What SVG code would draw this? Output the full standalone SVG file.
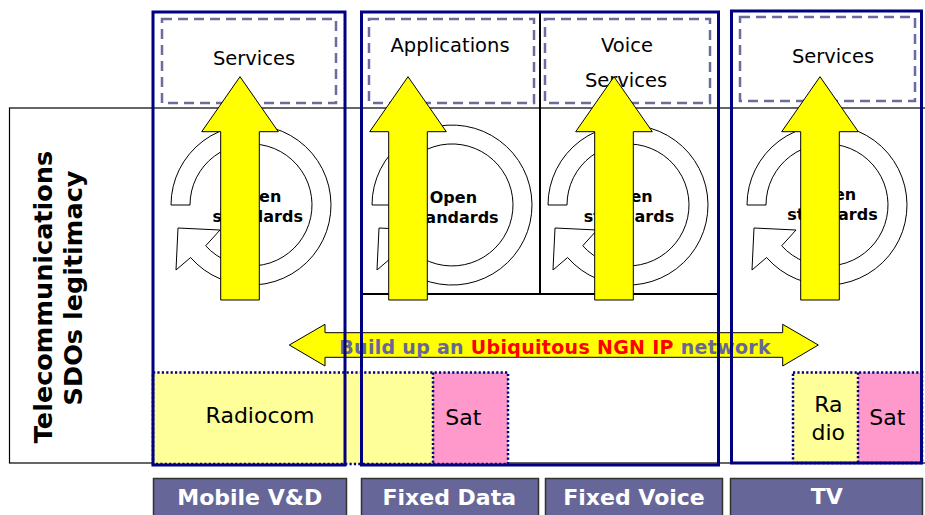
<svg xmlns="http://www.w3.org/2000/svg" xmlns:xlink="http://www.w3.org/1999/xlink" width="925" height="515" viewBox="0 0 925 515">
  <style>
    .lbl { font-family: "DejaVu Sans", Verdana, sans-serif; fill: #000; }
    .svc { font-size: 19.5px; text-anchor: middle; }
    .net { font-size: 22px; text-anchor: middle; }
    .std { font-size: 16px; font-weight: bold; text-anchor: middle; }
    .side { font-size: 25.5px; font-weight: bold; text-anchor: middle; }
    .tab { font-family: "DejaVu Sans", Verdana, sans-serif; font-size: 22px; font-weight: bold; fill: #fff; text-anchor: middle; }
    .tabbox { fill: #666699; stroke: #333; stroke-width: 1.5; }
    .dash { fill: none; stroke: #6b6b9e; stroke-width: 2.5; stroke-dasharray: 10 6; }
    .col { fill: none; stroke: #000080; stroke-width: 3; }
    .dots { fill: none; stroke: #000080; stroke-width: 2.5; stroke-dasharray: 2.2 2.2; }
    .yel { fill: #ffff99; }
    .pink { fill: #ff99cc; }
    .cycle { fill: #fff; stroke: #000; stroke-width: 1; }
    .up { fill: #ffff00; stroke: #000; stroke-width: 1; }
  </style>
  <defs>
    <!-- circular "open standards" arrow, centred on 0,0 -->
    <path id="cyc" d="M -80,0 A 80 80 0 1 1 -60.4,52.5 L -75,65 L -73,23 L -31,25 L -45.3,40.8 A 61 61 0 1 0 -61,0 Z"/>
    <!-- upward block arrow, tip at 0,0 -->
    <path id="uparrow" d="M 0,0 L 38.3,55 L 19.3,55 L 19.3,223.3 L -19.3,223.3 L -19.3,55 L -38.3,55 Z"/>
  </defs>

  <rect width="925" height="515" fill="#fff"/>

  <!-- legitimacy frame -->
  <g id="frame">
    <rect x="9.5" y="108" width="930" height="355" fill="#fff" stroke="#000" stroke-width="1.2"/>
    <g class="lbl side">
      <text transform="translate(51.5,297) rotate(-90)">Telecommunications</text>
      <text transform="translate(81.5,288) rotate(-90)">SDOs legitimacy</text>
    </g>
  </g>

  <!-- access technologies -->
  <g id="access">
    <rect class="yel" x="153" y="372.5" width="280" height="91.5"/>
    <rect class="pink" x="433" y="372.5" width="75" height="91.5"/>
    <rect class="yel" x="793" y="372.5" width="65" height="90.5"/>
    <rect class="pink" x="858" y="372.5" width="64" height="90.5"/>
    <text class="lbl net" x="260" y="423">Radiocom</text>
    <text class="lbl net" x="463.3" y="425">Sat</text>
    <text class="lbl net" x="828.3" y="411.5">Ra</text>
    <text class="lbl net" x="828.3" y="439.5">dio</text>
    <text class="lbl net" x="887.3" y="425">Sat</text>
  </g>

  <!-- fixed network inner grid -->
  <g id="fixed-grid" fill="none" stroke="#000" stroke-width="2">
    <rect x="361.5" y="12" width="357" height="282"/>
    <line x1="540" y1="12" x2="540" y2="294"/>
  </g>

  <!-- service boxes -->
  <g id="services">
    <rect class="dash" x="162" y="19" width="174" height="84"/>
    <text class="lbl svc" x="254" y="65">Services</text>
    <rect class="dash" x="369" y="19" width="165" height="84"/>
    <text class="lbl svc" x="450" y="52">Applications</text>
    <rect class="dash" x="545" y="19" width="165" height="84"/>
    <text class="lbl svc" x="627" y="52">Voice</text>
    <text class="lbl svc" x="626" y="87">Services</text>
    <rect class="dash" x="740" y="17" width="175" height="84"/>
    <text class="lbl svc" x="833" y="63">Services</text>
  </g>

  <!-- open standards cycles -->
  <g id="std-mobile">
    <use xlink:href="#cyc" class="cycle" transform="translate(251,205)"/>
    <text class="lbl std" x="257.7" y="202">Open</text>
    <text class="lbl std" x="257.7" y="222">standards</text>
  </g>
  <g id="std-data">
    <use xlink:href="#cyc" class="cycle" transform="translate(452,205)"/>
    <text class="lbl std" x="453.4" y="203">Open</text>
    <text class="lbl std" x="453.4" y="223">standards</text>
  </g>
  <g id="std-voice">
    <use xlink:href="#cyc" class="cycle" transform="translate(628,205)"/>
    <text class="lbl std" x="629" y="202">Open</text>
    <text class="lbl std" x="629" y="222">standards</text>
  </g>
  <g id="std-tv">
    <use xlink:href="#cyc" class="cycle" transform="translate(827,205)"/>
    <text class="lbl std" x="832.5" y="200">Open</text>
    <text class="lbl std" x="832.5" y="220">standards</text>
  </g>

  <!-- arrows -->
  <g id="connectors">
    <use xlink:href="#uparrow" class="up" transform="translate(240,76.7)"/>
    <use xlink:href="#uparrow" class="up" transform="translate(408,76.7)"/>
    <use xlink:href="#uparrow" class="up" transform="translate(614,76.7)"/>
    <use xlink:href="#uparrow" class="up" transform="translate(820,76.7)"/>
    <path class="up" d="M 289.3,345 L 325,324.3 L 325,332.7 L 782.7,332.7 L 782.7,324.3 L 818.3,345 L 782.7,366 L 782.7,357.3 L 325,357.3 L 325,366 Z"/>
    <text x="339.3" y="353.5" font-family="'DejaVu Sans', Verdana, sans-serif" font-size="19" font-weight="bold" letter-spacing="0.3" fill="#666699">Build up an <tspan fill="#ff0000">Ubiquitous NGN IP</tspan> network</text>
  </g>

  <!-- columns -->
  <g id="col-mobile"><rect class="col" x="153" y="12" width="192" height="453"/></g>
  <g id="col-fixed"><rect class="col" x="361.5" y="12" width="357" height="453"/></g>
  <g id="col-tv"><rect class="col" x="731.5" y="11" width="190" height="452"/></g>

  <!-- dotted outlines of access blocks -->
  <g id="access-outline">
    <rect class="dots" x="153" y="372.5" width="355" height="91.5"/>
    <line class="dots" x1="433" y1="372.5" x2="433" y2="464"/>
    <rect class="dots" x="793" y="372.5" width="129" height="90.5"/>
    <line class="dots" x1="858" y1="372.5" x2="858" y2="463"/>
  </g>

  <!-- category tabs -->
  <g id="tab-mobile">
    <rect class="tabbox" x="153.5" y="478.5" width="193" height="45"/>
    <text class="tab" x="249.7" y="505">Mobile V&amp;D</text>
  </g>
  <g id="tab-data">
    <rect class="tabbox" x="361.5" y="478.5" width="177" height="45"/>
    <text class="tab" x="449.3" y="505">Fixed Data</text>
  </g>
  <g id="tab-voice">
    <rect class="tabbox" x="545.5" y="478.5" width="177" height="45"/>
    <text class="tab" x="634" y="505">Fixed Voice</text>
  </g>
  <g id="tab-tv">
    <rect class="tabbox" x="730.5" y="478.5" width="192" height="45"/>
    <text class="tab" x="826.7" y="504">TV</text>
  </g>
</svg>
